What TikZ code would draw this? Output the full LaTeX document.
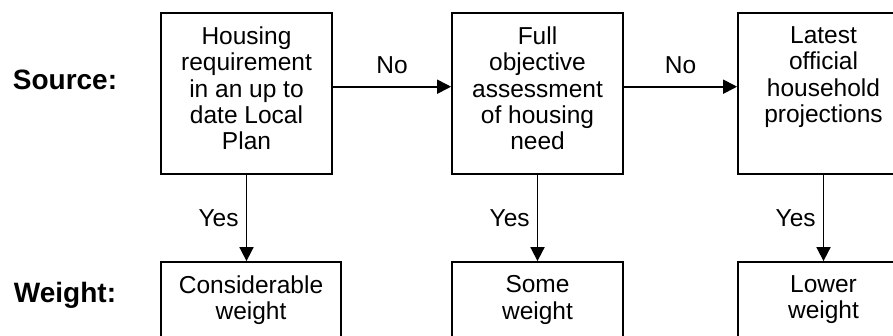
\documentclass[tikz,border=0pt]{standalone}
\usepackage{fontspec}
\setmainfont{Liberation Sans}
\usetikzlibrary{arrows.meta,positioning}

\begin{document}
\begin{tikzpicture}
            [
                x=1pt, y=1pt,
                box/.style={rectangle, draw=black, line width=1.8pt, inner sep=0pt},
                srcbox/.style={box, minimum width=171pt, minimum height=161pt},
                wtbox/.style={box, minimum width=171pt, minimum height=110pt},
                boxtext/.style={anchor=north, align=center, inner sep=0pt, yshift=-14.5pt, font=\fontsize{24.5}{26.3}\selectfont},
                side/.style={inner sep=0pt, font=\fontsize{28}{30}\selectfont\bfseries},
                flow/.style={-{Triangle[length=14pt,width=14pt]}, line width=1.8pt},
                lbl/.style={inner sep=0pt, font=\fontsize{24.5}{26.3}\selectfont}
            ]
            \useasboundingbox (0,0) rectangle (893,336);
            \clip (0,0) rectangle (893,336);
            % Row labels
            \node[side] (source) at (65,256) {Source:};
            \node[side] (weight) at (65,41) {Weight:};
            % Source boxes
            \node[srcbox] (s1) at (246.5,242.5) {};
            \node[boxtext] (t1) at (s1.north) {Housing\\requirement\\in an up to\\date Local\\Plan};
            \node[srcbox] (s2) at (537.5,242.5) {};
            \node[boxtext] (t2) at (s2.north) {Full\\objective\\assessment\\of housing\\need};
            \node[srcbox] (s3) at (823.5,242.5) {};
            \node[boxtext] (t3) at (s3.north) {Latest\\official\\household\\projections};
            % Weight boxes
            \node[wtbox, minimum width=180pt] (w1) at (251,19) {};
            \node[boxtext] (u1) at (w1.north) {Considerable\\weight};
            \node[wtbox] (w2) at (537.5,19) {};
            \node[boxtext] (u2) at (w2.north) {Some\\weight};
            \node[wtbox] (w3) at (823.5,19) {};
            \node[boxtext] (u3) at (w3.north) {Lower\\weight};
            % No arrows
            \draw[flow] ([yshift=6.8pt]s1.east) -- node[lbl, above=12pt] {No} ([yshift=6.8pt]s2.west);
            \draw[flow] ([yshift=6.8pt]s2.east) -- node[lbl, above=12pt] {No} ([yshift=6.8pt]s3.west);
            % Yes arrows
            \draw[flow] (s1.south) -- node[lbl, left=7pt] {Yes} (s1.south |- w1.north);
            \draw[flow] (s2.south) -- node[lbl, left=7pt] {Yes} (s2.south |- w2.north);
            \draw[flow] (s3.south) -- node[lbl, left=7pt] {Yes} (s3.south |- w3.north);
\end{tikzpicture}
\end{document}
